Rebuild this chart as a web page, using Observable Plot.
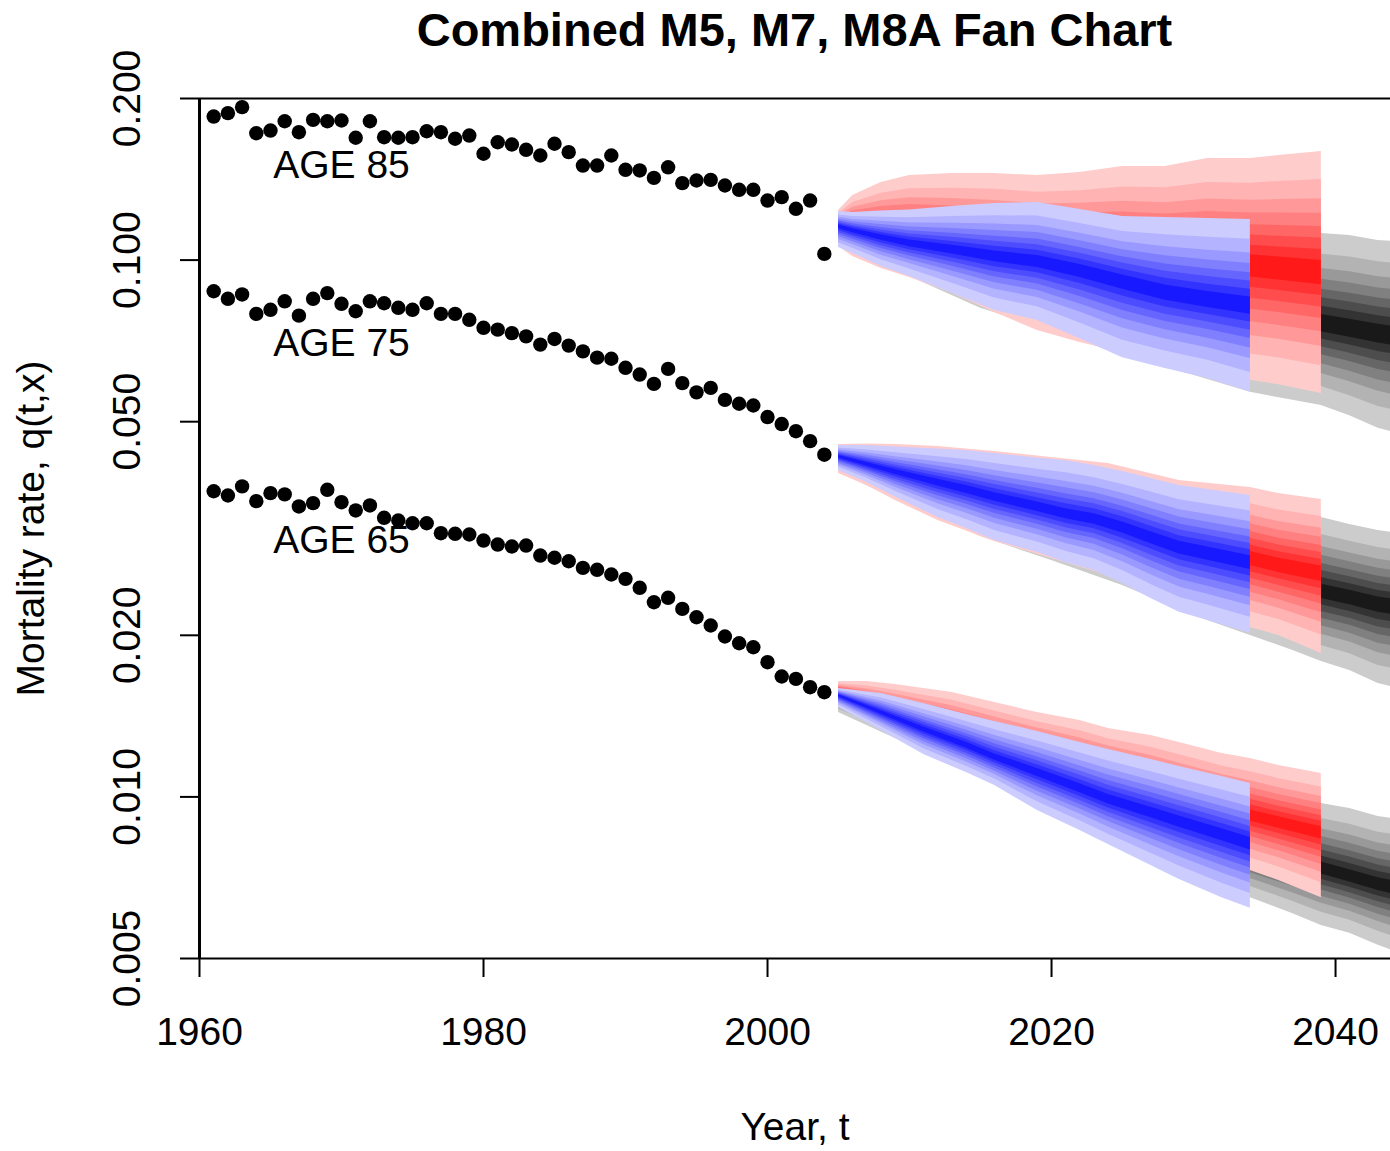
<!DOCTYPE html>
<html>
<head>
<meta charset="utf-8">
<script src="https://cdn.jsdelivr.net/npm/d3@7"></script>
<script src="https://cdn.jsdelivr.net/npm/@observablehq/plot@0.6"></script>
<style>
  body { margin: 0; background: #fff; font-family: "Liberation Sans", Arial, Helvetica, sans-serif; }
  #title { height: 60px; line-height: 60px; width: 1191px; margin-left: 199px; text-align: center;
           font-weight: bold; font-size: 47px; white-space: nowrap; color: #000; }
  #chart svg { display: block; }
</style>
</head>
<body>
<div id="title">Combined M5, M7, M8A Fan Chart</div>
<div id="chart"></div>
<script>
// ---------- observed data ----------
const obsYears = [1961,1962,1963,1964,1965,1966,1967,1968,1969,1970,1971,1972,1973,1974,1975,1976,1977,1978,1979,1980,
  1981,1982,1983,1984,1985,1986,1987,1988,1989,1990,1991,1992,1993,1994,1995,1996,1997,1998,1999,2000,2001,2002,2003,2004];
const q85 = [0.1851,0.1878,0.1927,0.1723,0.1743,0.1814,0.1731,0.1825,0.1814,0.1820,0.1690,0.1814,0.1694,0.1690,0.1694,0.1738,
  0.1731,0.1683,0.1706,0.1578,0.1658,0.1642,0.1605,0.1566,0.1647,0.1589,0.1500,0.1500,0.1566,0.1473,0.1469,0.1423,0.1489,
  0.1391,0.1407,0.1411,0.1377,0.1352,0.1352,0.1291,0.1310,0.1246,0.1291,0.1027];
const q75 = [0.0875,0.0847,0.0863,0.0794,0.0808,0.0838,0.0788,0.0847,0.0868,0.0829,0.0803,0.0838,0.0831,0.0815,0.0808,0.0831,
  0.0794,0.0794,0.0774,0.0748,0.0742,0.0731,0.0721,0.0696,0.0713,0.0693,0.0676,0.0658,0.0655,0.0630,0.0612,0.0588,0.0627,
  0.0590,0.0567,0.0578,0.0549,0.0540,0.0536,0.0510,0.0495,0.0480,0.0460,0.0434];
const q65 = [0.03710,0.03643,0.03788,0.03556,0.03680,0.03660,0.03476,0.03526,0.03733,0.03540,0.03417,0.03491,0.03311,0.03273,
  0.03234,0.03234,0.03099,0.03091,0.03082,0.03003,0.02952,0.02927,0.02939,0.02816,0.02789,0.02748,0.02671,0.02649,0.02596,
  0.02548,0.02452,0.02305,0.02349,0.02240,0.02161,0.02086,0.01990,0.01933,0.01900,0.01782,0.01676,0.01659,0.01601,0.01567];

// ---------- fan data (outer upper / median / outer lower) ----------
// age 85
const blue85Years = [2005,2006,2008,2010,2013,2016,2019,2022,2025,2028,2031,2034];
const blue85Hi  = [0.1232,0.1227,0.1234,0.1240,0.1258,0.1275,0.1280,0.1242,0.1206,0.1200,0.1195,0.1190];
const blue85Med = [0.1155,0.1135,0.1102,0.1074,0.1046,0.1016,0.0994,0.0956,0.0912,0.0870,0.0844,0.0823];
const blue85Lo  = [0.1055,0.1029,0.0973,0.0932,0.0867,0.0806,0.0772,0.0714,0.0658,0.0628,0.0602,0.0567];
const red85Years = [2005,2006,2008,2010,2013,2016,2019,2022,2025,2028,2031,2034,2036,2039];
const red85Hi  = [0.1237,0.1319,0.1395,0.1437,0.1450,0.1450,0.1437,0.1456,0.1494,0.1494,0.1546,0.1546,0.1566,0.1593];
const red85Med = [0.1175,0.1160,0.1140,0.1126,0.1102,0.1078,0.1055,0.1038,0.1020,0.1003,0.0990,0.0977,0.0965,0.0948];
const red85Lo  = [0.1060,0.1016,0.0965,0.0928,0.0867,0.0799,0.0739,0.0702,0.0673,0.0644,0.0617,0.0597,0.0586,0.0564];
const grey85Years = [2005,2010,2015,2020,2025,2030,2034,2037,2039,2041,2043,2045];
const grey85Hi  = [0.1227,0.1264,0.1291,0.1291,0.1264,0.1227,0.1185,0.1145,0.1121,0.1111,0.1088,0.1078];
const grey85Med = [0.1155,0.1088,0.1020,0.0956,0.0904,0.0852,0.0806,0.0778,0.0762,0.0746,0.0730,0.0717];
const grey85Lo  = [0.1060,0.0932,0.0813,0.0739,0.0664,0.0610,0.0567,0.0548,0.0536,0.0513,0.0486,0.0471];
// age 75
const blue75Years = [2005,2007,2009,2012,2014,2016,2019,2021,2023,2025,2027,2029,2031,2034];
const blue75Hi  = [0.04514,0.04514,0.04485,0.04447,0.04419,0.04362,0.04279,0.04233,0.04143,0.04038,0.03919,0.03803,0.03738,0.03643];
const blue75Med = [0.04306,0.04161,0.04029,0.03852,0.03738,0.03620,0.03468,0.03365,0.03294,0.03176,0.03042,0.02915,0.02841,0.02733];
const blue75Lo  = [0.04055,0.03852,0.03620,0.03315,0.03162,0.03003,0.02853,0.02733,0.02641,0.02498,0.02342,0.02208,0.02131,0.02015];
const red75Years = [2005,2007,2009,2012,2016,2020,2024,2029,2034,2036,2039];
const red75Hi  = [0.04534,0.04544,0.04534,0.04495,0.04400,0.04288,0.04179,0.03885,0.03770,0.03674,0.03581];
const red75Med = [0.04306,0.04179,0.04055,0.03885,0.03674,0.03475,0.03287,0.03029,0.02780,0.02698,0.02607];
const red75Lo  = [0.04003,0.03803,0.03566,0.03272,0.02991,0.02780,0.02585,0.02273,0.02068,0.01998,0.01850];
const grey75Years = [2005,2010,2015,2020,2025,2030,2034,2037,2039,2041,2043,2045];
const grey75Hi  = [0.04514,0.04476,0.04400,0.04233,0.03969,0.03690,0.03490,0.03387,0.03315,0.03217,0.03135,0.03082];
const grey75Med = [0.04288,0.03969,0.03674,0.03416,0.03135,0.02877,0.02675,0.02530,0.02413,0.02352,0.02283,0.02244];
const grey75Lo  = [0.04021,0.03490,0.03055,0.02757,0.02476,0.02177,0.01998,0.01874,0.01787,0.01720,0.01626,0.01578];
// age 65
const blue65Years = [2005,2008,2011,2014,2016,2019,2022,2024,2027,2029,2032,2034];
const blue65Hi  = [0.01592,0.01558,0.01493,0.01424,0.01382,0.01324,0.01263,0.01225,0.01174,0.01139,0.01091,0.01059];
const blue65Med = [0.01545,0.01436,0.01335,0.01247,0.01184,0.01110,0.01037,0.00989,0.00935,0.00900,0.00851,0.00819];
const blue65Lo  = [0.01467,0.01329,0.01199,0.01110,0.01050,0.00943,0.00866,0.00815,0.00745,0.00702,0.00649,0.00620];
const red65Years = [2005,2007,2009,2013,2016,2019,2022,2024,2027,2029,2032,2034,2036,2039];
const red65Hi  = [0.01640,0.01640,0.01619,0.01565,0.01499,0.01436,0.01388,0.01341,0.01301,0.01263,0.01205,0.01179,0.01144,0.01106];
const red65Med = [0.01572,0.01512,0.01455,0.01352,0.01279,0.01210,0.01144,0.01106,0.01046,0.01006,0.00955,0.00923,0.00896,0.00858];
const red65Lo  = [0.01480,0.01400,0.01312,0.01169,0.01064,0.00985,0.00911,0.00866,0.00812,0.00788,0.00755,0.00729,0.00699,0.00649];
const grey65Years = [2005,2010,2015,2020,2025,2030,2034,2037,2039,2041,2043,2045];
const grey65Hi  = [0.01619,0.01512,0.01388,0.01274,0.01159,0.01073,0.01019,0.00993,0.00972,0.00951,0.00919,0.00904];
const grey65Med = [0.01532,0.01376,0.01231,0.01106,0.00985,0.00881,0.00801,0.00761,0.00736,0.00711,0.00687,0.00669];
const grey65Lo  = [0.01436,0.01250,0.01090,0.00930,0.00800,0.00690,0.00649,0.00606,0.00576,0.00557,0.00529,0.00506];

// fan band structure: fraction of the outer half-width (log scale) and shade of each band
const bandFrac = [1, 0.77, 0.61, 0.49, 0.38, 0.285, 0.19, 0.1];
const bandShade = [0.2, 0.3, 0.4, 0.5, 0.6, 0.7, 0.8, 0.9];

// labels / ticks
const ageLabels = ["AGE 85", "AGE 75", "AGE 65"];
const ageLabelQ = [0.15, 0.07, 0.03];
const ageLabelYear = 1970;
const xTicks = [1960, 1980, 2000, 2020, 2040];
const yTicks = [0.005, 0.010, 0.020, 0.050, 0.100, 0.200];
const yTickLabels = ["0.005", "0.010", "0.020", "0.050", "0.100", "0.200"];
const xDomain = [1960, 2043.87];
const yDomain = [0.005, 0.2];

// ---------- build tables ----------
const obs = [];
[[85, q85], [75, q75], [65, q65]].forEach(([age, qs]) =>
  obsYears.forEach((yr, i) => obs.push({age, year: yr, q: qs[i]})));

const fans = [
  {model: "grey", age: 85, years: grey85Years, hi: grey85Hi, med: grey85Med, lo: grey85Lo},
  {model: "grey", age: 75, years: grey75Years, hi: grey75Hi, med: grey75Med, lo: grey75Lo},
  {model: "grey", age: 65, years: grey65Years, hi: grey65Hi, med: grey65Med, lo: grey65Lo},
  {model: "red",  age: 85, years: red85Years,  hi: red85Hi,  med: red85Med,  lo: red85Lo},
  {model: "red",  age: 75, years: red75Years,  hi: red75Hi,  med: red75Med,  lo: red75Lo},
  {model: "red",  age: 65, years: red65Years,  hi: red65Hi,  med: red65Med,  lo: red65Lo},
  {model: "blue", age: 85, years: blue85Years, hi: blue85Hi, med: blue85Med, lo: blue85Lo},
  {model: "blue", age: 75, years: blue75Years, hi: blue75Hi, med: blue75Med, lo: blue75Lo},
  {model: "blue", age: 65, years: blue65Years, hi: blue65Hi, med: blue65Med, lo: blue65Lo}
];

const fanRows = [];
fans.forEach(f => {
  bandFrac.forEach((fr, level) => {
    f.years.forEach((yr, j) => {
      const m = Math.log(f.med[j]);
      fanRows.push({
        model: f.model, age: f.age, level, year: yr,
        lo: Math.exp(m + fr * (Math.log(f.lo[j]) - m)),
        hi: Math.exp(m + fr * (Math.log(f.hi[j]) - m))
      });
    });
  });
});

function shadeColor(model, t) {
  const c = Math.round(255 * (1 - t));
  if (model === "grey") return `rgb(${c},${c},${c})`;
  if (model === "red") return `rgb(255,${c},${c})`;
  return `rgb(${c},${c},255)`;
}

const marks = [];
["grey", "red", "blue"].forEach(model => {
  bandShade.forEach((t, level) => {
    marks.push(Plot.areaY(fanRows.filter(r => r.model === model && r.level === level), {
      x: "year", y1: "lo", y2: "hi", z: "age", fill: shadeColor(model, t), curve: "linear", clip: true
    }));
  });
});

const FONT = "'Liberation Sans', Arial, Helvetica, sans-serif";

marks.push(
  Plot.dot(obs, {x: "year", y: "q", r: 7.2, fill: "black", stroke: "none"}),
  Plot.text(ageLabels, {x: () => ageLabelYear, y: (d, i) => ageLabelQ[i], text: d => d,
    fontSize: 39, textAnchor: "middle", lineAnchor: "middle", fill: "black"}),
  Plot.ruleY([yDomain[1], yDomain[0]], {stroke: "black", strokeWidth: 2}),
  Plot.ruleX([xDomain[0]], {stroke: "black", strokeWidth: 3}),
  Plot.axisX({ticks: xTicks, tickSize: 19, tickPadding: 40, tickFormat: d => String(d),
    fontSize: 39, label: null, strokeWidth: 2}),
  Plot.axisY({ticks: yTicks, tickSize: 19, tickFormat: () => "", label: null, strokeWidth: 2}),
  Plot.text(yTicks, {y: d => d, text: yTickLabels, frameAnchor: "left", dx: -72, rotate: -90,
    fontSize: 39, textAnchor: "middle", lineAnchor: "middle", fill: "black"}),
  Plot.text(["Mortality rate, q(t,x)"], {frameAnchor: "left", dx: -168, rotate: -90,
    fontSize: 39, textAnchor: "middle", lineAnchor: "middle", fill: "black"}),
  Plot.text(["Year, t"], {frameAnchor: "bottom", dy: 169,
    fontSize: 39, textAnchor: "middle", lineAnchor: "middle", fill: "black"})
);

const chart = Plot.plot({
  width: 1390,
  height: 1091,
  marginLeft: 199,
  marginRight: 0,
  marginTop: 38,
  marginBottom: 193,
  x: {domain: xDomain},
  y: {type: "log", domain: yDomain},
  style: {fontFamily: FONT, background: "white", overflow: "visible", color: "black"},
  marks
});
document.getElementById("chart").appendChild(chart);
</script>
</body>
</html>
